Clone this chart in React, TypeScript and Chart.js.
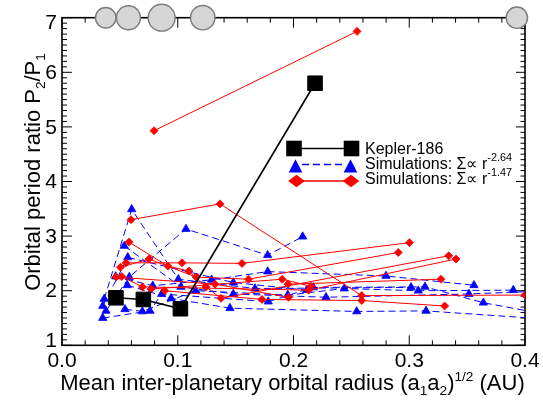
import React, { useEffect, useRef } from 'react';
import { Chart, registerables } from 'chart.js';

Chart.register(...registerables);

type Pt = [number, number];

// Kepler-186 planets: semi-major axis (AU) and radius (Earth radii), shown along the top edge
const planetAxis = [0.0378, 0.0574, 0.0861, 0.1216, 0.393];
const planetRadius = [1.07, 1.25, 1.4, 1.27, 1.11];
const planetRowY = 7;

// Adjacent Kepler-186 pairs: mean orbital radius and period ratio
const keplerMeanA = [0.0466, 0.0703, 0.1023, 0.2186];
const keplerRatio = [1.87, 1.84, 1.67, 5.8];

// Simulated systems, surface density ∝ r^-2.64
const steepRun1: Pt[] = [[0.0365, 1.85], [0.0602, 3.49], [0.1005, 2.21], [0.1667, 2.04], [0.3015, 2.06]];
const steepRun2: Pt[] = [[0.038, 1.63], [0.0581, 2.25], [0.1071, 3.13], [0.1777, 2.65], [0.2079, 2.99]];
const steepRun3: Pt[] = [[0.0538, 2.82], [0.1028, 2.07], [0.148, 1.94], [0.2281, 1.88], [0.3516, 1.94], [0.445, 2.02]];
const steepRun4: Pt[] = [[0.0464, 2.26], [0.0784, 2.09], [0.1293, 2.2], [0.1777, 2.35], [0.2799, 2.27], [0.3559, 2.1]];
const steepRun5: Pt[] = [[0.0564, 2.1], [0.0942, 1.86], [0.1451, 1.68], [0.2546, 1.62], [0.3145, 1.63], [0.46, 1.42]];
const steepRun6: Pt[] = [[0.0544, 1.66], [0.0694, 1.62], [0.1155, 2.0], [0.195, 1.92], [0.2439, 2.04], [0.3078, 2.0], [0.3899, 2.01]];
const steepRun7: Pt[] = [[0.0352, 1.5], [0.076, 1.63], [0.0861, 1.94], [0.1782, 1.8], [0.2171, 2.06], [0.3136, 2.07], [0.364, 1.78], [0.43, 1.52]];
const steepRun8: Pt[] = [[0.0352, 1.72], [0.0568, 2.61], [0.148, 2.15], [0.2114, 2.01]];

// Simulated systems, surface density ∝ r^-1.47
const shallowRun1: Pt[] = [[0.0795, 4.93], [0.2549, 6.75]];
const shallowRun2: Pt[] = [[0.0596, 3.3], [0.1365, 3.59], [0.2589, 1.91], [0.4, 1.92]];
const shallowRun3: Pt[] = [[0.0579, 2.89], [0.0916, 2.45], [0.1097, 2.36], [0.1244, 2.07], [0.1374, 1.86], [0.3341, 2.64]];
const shallowRun4: Pt[] = [[0.0553, 2.51], [0.1037, 2.51], [0.1555, 2.5], [0.3002, 2.88]];
const shallowRun5: Pt[] = [[0.0505, 2.43], [0.0752, 2.58], [0.1158, 2.25], [0.1611, 2.21], [0.2905, 2.7]];
const shallowRun6: Pt[] = [[0.0467, 2.25], [0.1322, 2.12], [0.1957, 1.88]];
const shallowRun7: Pt[] = [[0.0516, 2.26], [0.0695, 2.07], [0.213, 2.01], [0.3404, 2.58]];
const shallowRun8: Pt[] = [[0.0769, 2.03], [0.1903, 2.21], [0.2151, 2.08]];
const shallowRun9: Pt[] = [[0.0887, 2.0], [0.1728, 1.84], [0.2589, 1.82], [0.3306, 1.72]];
const shallowRun10: Pt[] = [[0.1952, 2.12], [0.3274, 2.21]];

const steepRuns = [steepRun1, steepRun2, steepRun3, steepRun4, steepRun5, steepRun6, steepRun7, steepRun8];
const shallowRuns = [shallowRun1, shallowRun2, shallowRun3, shallowRun4, shallowRun5, shallowRun6, shallowRun7, shallowRun8, shallowRun9, shallowRun10];

// Axis ticks
const xTickValues = [0, 0.1, 0.2, 0.3, 0.4];
const xTickLabels = ['0.0', '0.1', '0.2', '0.3', '0.4'];
const yTickValues = [1, 2, 3, 4, 5, 6, 7];
const yTickLabels = ['1', '2', '3', '4', '5', '6', '7'];

const legendLabels = ['Kepler-186', 'Simulations: Σ∝ r', 'Simulations: Σ∝ r'];
const legendExponents = ['', '-2.64', '-1.47'];

const FONT = '"Liberation Sans", Arial, Helvetica, sans-serif';
const RED = '#ff0000';
const BLUE = '#0000ff';

type Seg = { text: string; mode?: 'sub' | 'sup' };

function drawRich(
  ctx: CanvasRenderingContext2D,
  segs: Seg[],
  x: number,
  y: number,
  size: number,
  align: 'left' | 'center',
  small = 0.62,
) {
  ctx.textAlign = 'left';
  ctx.textBaseline = 'alphabetic';
  const widths = segs.map((s) => {
    ctx.font = `${s.mode ? size * small : size}px ${FONT}`;
    return ctx.measureText(s.text).width;
  });
  const total = widths.reduce((a, b) => a + b, 0);
  let cx = align === 'center' ? x - total / 2 : x;
  segs.forEach((s, i) => {
    ctx.font = `${s.mode ? size * small : size}px ${FONT}`;
    const dy = s.mode === 'sub' ? size * 0.22 : s.mode === 'sup' ? -size * 0.44 : 0;
    ctx.fillText(s.text, cx, y + dy);
    cx += widths[i];
  });
}

const framePlugin = {
  id: 'idlFrame',
  beforeDatasetsDraw(chart: any) {
    const { ctx, chartArea } = chart;
    const { left, right, top, bottom } = chartArea;
    const xs = chart.scales.x;
    const ys = chart.scales.y;
    ctx.save();
    ctx.strokeStyle = '#000';
    ctx.lineWidth = 1;
    ctx.beginPath();
    // inward ticks on bottom and top
    for (let i = 0; i <= 20; i++) {
      const v = i * 0.02;
      const px = xs.getPixelForValue(v);
      const len = i % 5 === 0 ? 10 : 5;
      ctx.moveTo(px, bottom);
      ctx.lineTo(px, bottom - len);
      ctx.moveTo(px, top);
      ctx.lineTo(px, top + len);
    }
    // inward ticks on left and right
    for (let i = 0; i <= 60; i++) {
      const v = 1 + i * 0.1;
      const py = ys.getPixelForValue(v);
      const lenL = i % 10 === 0 ? 10 : 5;
      const lenR = i % 10 === 0 ? 9 : 4.5;
      ctx.moveTo(left, py);
      ctx.lineTo(left + lenL, py);
      ctx.moveTo(right, py);
      ctx.lineTo(right - lenR, py);
    }
    ctx.stroke();
    ctx.lineWidth = 1.6;
    ctx.strokeRect(left, top, right - left, bottom - top);
    ctx.restore();
  },
  afterDraw(chart: any) {
    const { ctx, chartArea } = chart;
    const { left, right, top, bottom } = chartArea;
    const xs = chart.scales.x;
    const ys = chart.scales.y;
    ctx.save();
    ctx.fillStyle = '#000';

    // tick labels
    ctx.font = `21px ${FONT}`;
    ctx.textAlign = 'center';
    ctx.textBaseline = 'alphabetic';
    xTickValues.forEach((v, i) => {
      ctx.fillText(xTickLabels[i], xs.getPixelForValue(v), bottom + 22);
    });
    ctx.textAlign = 'right';
    ctx.textBaseline = 'middle';
    yTickValues.forEach((v, i) => {
      let py = ys.getPixelForValue(v);
      if (i === 0) py -= 5;
      if (i === yTickValues.length - 1) py += 5;
      ctx.fillText(yTickLabels[i], left - 5, py + 1);
    });

    // x axis title
    drawRich(
      ctx,
      [
        { text: 'Mean inter-planetary orbital radius (a' },
        { text: '1', mode: 'sub' },
        { text: 'a' },
        { text: '2', mode: 'sub' },
        { text: ')' },
        { text: '1/2', mode: 'sup' },
        { text: ' (AU)' },
      ],
      (left + right) / 2 - 1,
      bottom + 45,
      22,
      'center',
    );

    // y axis title
    ctx.save();
    ctx.translate(40, 172);
    ctx.rotate(-Math.PI / 2);
    drawRich(
      ctx,
      [
        { text: 'Orbital period ratio P' },
        { text: '2', mode: 'sub' },
        { text: '/P' },
        { text: '1', mode: 'sub' },
      ],
      0,
      0,
      22,
      'center',
    );
    ctx.restore();

    // legend
    const rows = [148.5, 166, 181];
    const x1 = 294;
    const x2 = 351.5;
    // row 1: Kepler-186
    ctx.strokeStyle = '#000';
    ctx.lineWidth = 1.5;
    ctx.beginPath();
    ctx.moveTo(x1, rows[0]);
    ctx.lineTo(x2, rows[0]);
    ctx.stroke();
    ctx.fillStyle = '#000';
    [x1, x2].forEach((cx) => ctx.fillRect(cx - 7.8, rows[0] - 7.8, 15.6, 15.6));
    // row 2: steep runs
    ctx.strokeStyle = BLUE;
    ctx.lineWidth = 1.3;
    ctx.setLineDash([7, 4]);
    ctx.beginPath();
    ctx.moveTo(x1 + 8, rows[1] - 1.5);
    ctx.lineTo(x2 - 7, rows[1] - 1.5);
    ctx.stroke();
    ctx.setLineDash([]);
    ctx.fillStyle = BLUE;
    [x1 + 1.5, x2 - 1].forEach((cx) => {
      ctx.beginPath();
      ctx.moveTo(cx, rows[1] - 6.8);
      ctx.lineTo(cx + 6.8, rows[1] + 6.6);
      ctx.lineTo(cx - 6.8, rows[1] + 6.6);
      ctx.closePath();
      ctx.fill();
    });
    // row 3: shallow runs
    ctx.strokeStyle = RED;
    ctx.lineWidth = 1.3;
    ctx.beginPath();
    ctx.moveTo(x1 + 2, rows[2]);
    ctx.lineTo(x2, rows[2]);
    ctx.stroke();
    ctx.fillStyle = RED;
    [x1 + 2.5, x2 - 0.5].forEach((cx) => {
      ctx.beginPath();
      ctx.moveTo(cx - 8.3, rows[2]);
      ctx.lineTo(cx, rows[2] - 6.3);
      ctx.lineTo(cx + 8.3, rows[2]);
      ctx.lineTo(cx, rows[2] + 6.3);
      ctx.closePath();
      ctx.fill();
    });
    // legend text
    ctx.fillStyle = '#000';
    const baselines = [153.5, 168.5, 183.5];
    legendLabels.forEach((label, i) => {
      const segs: Seg[] = [{ text: label }];
      if (legendExponents[i]) segs.push({ text: legendExponents[i], mode: 'sup' });
      drawRich(ctx, segs, 365, baselines[i], 16, 'left', 0.68);
    });

    ctx.restore();
  },
};

export default function App() {
  const canvasRef = useRef<HTMLCanvasElement | null>(null);

  useEffect(() => {
    const canvas = canvasRef.current;
    if (!canvas) return;

    const toPoints = (run: Pt[]) => run.map(([x, y]) => ({ x, y }));

    const datasets: any[] = [
      {
        label: 'Kepler-186 planets',
        data: planetAxis.map((a) => ({ x: a, y: planetRowY })),
        showLine: false,
        pointStyle: 'circle',
        pointRadius: planetRadius.map((r) => r * 9.6),
        pointBackgroundColor: '#d6d6d6',
        pointBorderColor: '#7c7c7c',
        pointBorderWidth: 1.4,
        clip: false,
        order: 0,
      },
      {
        label: 'Kepler-186',
        data: keplerMeanA.map((x, i) => ({ x, y: keplerRatio[i] })),
        showLine: true,
        borderColor: '#000',
        borderWidth: 1.6,
        pointStyle: 'rect',
        pointRadius: 10.3,
        pointBackgroundColor: '#000',
        pointBorderColor: '#000',
        pointBorderWidth: 1,
        order: 1,
      },
      ...shallowRuns.map((run, i) => ({
        label: `shallow ${i + 1}`,
        data: toPoints(run),
        showLine: true,
        borderColor: RED,
        borderWidth: 1,
        pointStyle: 'rectRot',
        pointRadius: 4,
        pointBackgroundColor: RED,
        pointBorderColor: RED,
        pointBorderWidth: 0.8,
        order: 2,
      })),
      ...steepRuns.map((run, i) => ({
        label: `steep ${i + 1}`,
        data: toPoints(run),
        showLine: true,
        borderColor: BLUE,
        borderWidth: 1,
        borderDash: [7, 4],
        pointStyle: 'triangle',
        pointRadius: 4.8,
        pointBackgroundColor: BLUE,
        pointBorderColor: BLUE,
        pointBorderWidth: 0.8,
        order: 3,
      })),
    ];

    const chart = new Chart(canvas, {
      type: 'scatter',
      data: { datasets },
      options: {
        animation: false,
        responsive: false,
        devicePixelRatio: 1,
        events: [],
        layout: { padding: { left: 62, right: 18, top: 17.7, bottom: 56.7 } },
        scales: {
          x: { type: 'linear', min: 0, max: 0.4, display: false },
          y: { type: 'linear', min: 1, max: 7, display: false },
        },
        plugins: {
          legend: { display: false },
          tooltip: { enabled: false },
        },
      } as any,
      plugins: [framePlugin],
    });

    return () => chart.destroy();
  }, []);

  return (
    <div style={{ position: 'fixed', left: 0, top: 0, width: 543, height: 402, background: '#fff' }}>
      <canvas ref={canvasRef} width={543} height={402} style={{ display: 'block' }} />
    </div>
  );
}
